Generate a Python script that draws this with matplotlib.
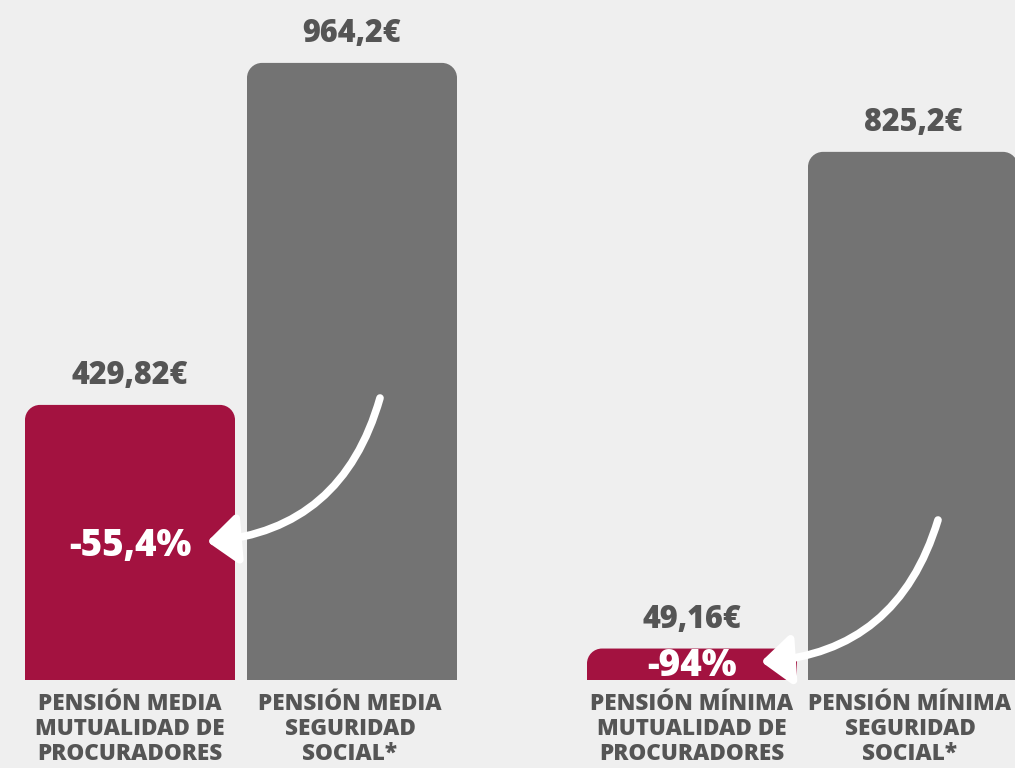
import os
import matplotlib
matplotlib.use("Agg")
import matplotlib.pyplot as plt
from matplotlib.path import Path
from matplotlib.patches import PathPatch, FancyArrowPatch, ArrowStyle
from matplotlib.font_manager import FontProperties

# ---- data ----
categories = [
    "PENSIÓN MEDIA\nMUTUALIDAD DE\nPROCURADORES",
    "PENSIÓN MEDIA\nSEGURIDAD\nSOCIAL*",
    "PENSIÓN MÍNIMA\nMUTUALIDAD DE\nPROCURADORES",
    "PENSIÓN MÍNIMA\nSEGURIDAD\nSOCIAL*",
]
values = [429.82, 964.2, 49.16, 825.2]
value_labels = ["429,82€", "964,2€", "49,16€", "825,2€"]
pct_labels = ["-55,4%", "-94%"]

# ---- layout ----
W, H = 1015, 768
BASE_PX = 680          # pixel row (from top) of the bar baseline
SCALE = 0.64           # pixels per euro
bar_x = [130, 352, 692, 913]
label_x = [130, 350, 692, 910]
bar_w = 210
RED = "#a31240"
GRAY = "#737373"
TXT = "#555555"
BG = "#efefef"
colors = [RED, GRAY, RED, GRAY]

BOLD_FILE = "/usr/share/fonts/truetype/open-sans/OpenSans-ExtraBold.ttf"
def fp(size):
    if os.path.exists(BOLD_FILE):
        return FontProperties(fname=BOLD_FILE, size=size)
    return FontProperties(family="Open Sans", weight="heavy", size=size)

def yv(py):  # pixel row -> data value
    return (BASE_PX - py) / SCALE

fig = plt.figure(figsize=(W / 100, H / 100), dpi=100)
fig.patch.set_facecolor(BG)
ax = fig.add_axes([0, 0, 1, 1])
ax.set_facecolor(BG)
ax.set_xlim(0, W)
ax.set_ylim(yv(H), yv(0))
ax.axis("off")

bars = ax.bar(bar_x, values, width=bar_w, color=colors)
rx = 15.0
ry = 15.0 / SCALE
for b, c in zip(bars, colors):
    x0, w, h = b.get_x(), b.get_width(), b.get_height()
    x1 = x0 + w
    r_y = min(ry, h)
    k = 0.5523
    verts = [
        (x0, 0), (x0, h - r_y),
        (x0, h - r_y + k * r_y), (x0 + rx - k * rx, h), (x0 + rx, h),
        (x1 - rx, h),
        (x1 - rx + k * rx, h), (x1, h - r_y + k * r_y), (x1, h - r_y),
        (x1, 0), (x0, 0),
    ]
    codes = [Path.MOVETO, Path.LINETO,
             Path.CURVE4, Path.CURVE4, Path.CURVE4,
             Path.LINETO,
             Path.CURVE4, Path.CURVE4, Path.CURVE4,
             Path.LINETO, Path.CLOSEPOLY]
    b.set_visible(False)
    ax.add_patch(PathPatch(Path(verts, codes), facecolor=c, edgecolor="none"))

# value labels above bars
for x, v, s in zip(bar_x, values, value_labels):
    ax.annotate(s, (x, v), xytext=(0, 15), textcoords="offset points",
                ha="center", va="baseline", fontproperties=fp(22), color=TXT)

# category labels
for x, s in zip(label_x, categories):
    ax.text(x, yv(729), s, ha="center", va="center", fontproperties=fp(16.2),
            color=TXT, linespacing=1.05)

# percentage labels and arrows
pct_pos = [(bar_x[0], yv(542)), (bar_x[2], yv(662))]
arrow_start = [(380, yv(398)), (938, yv(520))]
arrow_end = [(203, yv(542)), (757, yv(662))]
for (px_, py_), s in zip(pct_pos, pct_labels):
    ax.text(px_, py_, s, ha="center", va="center_baseline", fontproperties=fp(26.5),
            color="white")

style = ArrowStyle("-|>", head_length=18, head_width=15)
for a, e in zip(arrow_start, arrow_end):
    arr = FancyArrowPatch(a, e, arrowstyle=style, connectionstyle="arc3,rad=-0.35",
                          mutation_scale=1, color="white", lw=5.5,
                          shrinkA=0, shrinkB=3, capstyle="round", joinstyle="round")
    ax.add_patch(arr)

fig.savefig("out.png", dpi=100, facecolor=BG)
